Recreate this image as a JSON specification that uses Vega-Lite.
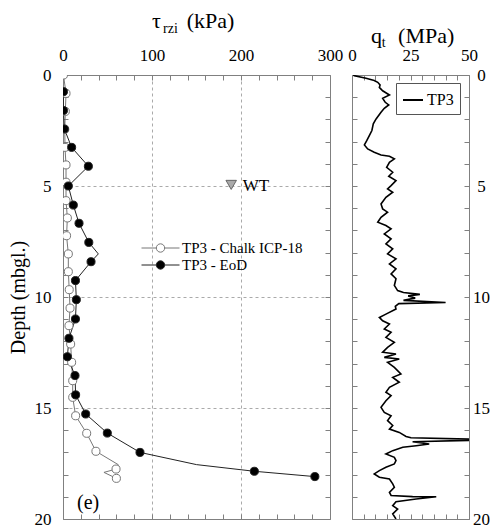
{
  "$schema": "https://vega.github.io/schema/vega-lite/v6.json",
  "background": "white",
  "padding": {"left": 8, "top": 10, "right": 0, "bottom": 0},
  "config": {
    "font": "Liberation Serif",
    "view": {"stroke": null},
    "axis": {
      "labelFont": "Liberation Serif", "labelFontSize": 17, "labelColor": "black",
      "domainColor": "#808080", "tickColor": "#808080", "domainWidth": 1, "tickWidth": 1,
      "titleFont": "Liberation Serif", "titleFontWeight": "normal", "titleColor": "black", "titleFontSize": 17,
      "gridColor": "#aaaaaa", "gridDash": [3, 3], "gridWidth": 1,
      "labelOverlap": false, "labelFlush": false
    },
    "legend": {"labelFont": "Liberation Serif", "labelColor": "black"},
    "concat": {"spacing": 4}
  },
  "datasets": {
    "tauPts": [
      {"series": "TP3 - Chalk ICP-18", "depth": 0.0, "kPa": 0.5},
      {"series": "TP3 - Chalk ICP-18", "depth": 0.83, "kPa": 3.4},
      {"series": "TP3 - Chalk ICP-18", "depth": 1.64, "kPa": 2.6},
      {"series": "TP3 - Chalk ICP-18", "depth": 2.45, "kPa": 2.0},
      {"series": "TP3 - Chalk ICP-18", "depth": 3.26, "kPa": 2.2},
      {"series": "TP3 - Chalk ICP-18", "depth": 4.05, "kPa": 3.4},
      {"series": "TP3 - Chalk ICP-18", "depth": 4.83, "kPa": 3.4},
      {"series": "TP3 - Chalk ICP-18", "depth": 5.66, "kPa": 3.4},
      {"series": "TP3 - Chalk ICP-18", "depth": 6.44, "kPa": 4.9},
      {"series": "TP3 - Chalk ICP-18", "depth": 7.24, "kPa": 4.0},
      {"series": "TP3 - Chalk ICP-18", "depth": 8.06, "kPa": 6.0},
      {"series": "TP3 - Chalk ICP-18", "depth": 8.86, "kPa": 6.0},
      {"series": "TP3 - Chalk ICP-18", "depth": 9.67, "kPa": 7.0},
      {"series": "TP3 - Chalk ICP-18", "depth": 10.5, "kPa": 7.9},
      {"series": "TP3 - Chalk ICP-18", "depth": 11.29, "kPa": 6.7},
      {"series": "TP3 - Chalk ICP-18", "depth": 12.12, "kPa": 8.6},
      {"series": "TP3 - Chalk ICP-18", "depth": 12.94, "kPa": 9.7},
      {"series": "TP3 - Chalk ICP-18", "depth": 13.77, "kPa": 10.9},
      {"series": "TP3 - Chalk ICP-18", "depth": 14.52, "kPa": 10.9},
      {"series": "TP3 - Chalk ICP-18", "depth": 15.35, "kPa": 14.2},
      {"series": "TP3 - Chalk ICP-18", "depth": 16.14, "kPa": 26.6},
      {"series": "TP3 - Chalk ICP-18", "depth": 16.95, "kPa": 37.0},
      {"series": "TP3 - Chalk ICP-18", "depth": 17.75, "kPa": 59.6},
      {"series": "TP3 - Chalk ICP-18", "depth": 18.17, "kPa": 60.0},
      {"series": "TP3 - EoD", "depth": 0.75, "kPa": 0.5},
      {"series": "TP3 - EoD", "depth": 1.6, "kPa": 0.5},
      {"series": "TP3 - EoD", "depth": 2.43, "kPa": 1.5},
      {"series": "TP3 - EoD", "depth": 3.26, "kPa": 9.7},
      {"series": "TP3 - EoD", "depth": 4.11, "kPa": 28.5},
      {"series": "TP3 - EoD", "depth": 5.0, "kPa": 6.0},
      {"series": "TP3 - EoD", "depth": 5.86, "kPa": 11.6},
      {"series": "TP3 - EoD", "depth": 6.68, "kPa": 18.0},
      {"series": "TP3 - EoD", "depth": 7.54, "kPa": 29.0},
      {"series": "TP3 - EoD", "depth": 8.41, "kPa": 31.5},
      {"series": "TP3 - EoD", "depth": 9.26, "kPa": 14.0},
      {"series": "TP3 - EoD", "depth": 10.12, "kPa": 15.0},
      {"series": "TP3 - EoD", "depth": 10.99, "kPa": 14.0},
      {"series": "TP3 - EoD", "depth": 11.86, "kPa": 6.7},
      {"series": "TP3 - EoD", "depth": 12.69, "kPa": 4.9},
      {"series": "TP3 - EoD", "depth": 13.54, "kPa": 13.5},
      {"series": "TP3 - EoD", "depth": 14.41, "kPa": 14.2},
      {"series": "TP3 - EoD", "depth": 15.27, "kPa": 25.5},
      {"series": "TP3 - EoD", "depth": 16.13, "kPa": 49.8},
      {"series": "TP3 - EoD", "depth": 17.0, "kPa": 86.5},
      {"series": "TP3 - EoD", "depth": 17.85, "kPa": 215.0},
      {"series": "TP3 - EoD", "depth": 18.09, "kPa": 283.0}
    ],
    "tauLine": [
      {"series": "TP3 - Chalk ICP-18", "depth": 0.0, "kPa": 0.5},
      {"series": "TP3 - Chalk ICP-18", "depth": 0.83, "kPa": 3.4},
      {"series": "TP3 - Chalk ICP-18", "depth": 1.64, "kPa": 2.6},
      {"series": "TP3 - Chalk ICP-18", "depth": 2.45, "kPa": 2.0},
      {"series": "TP3 - Chalk ICP-18", "depth": 3.26, "kPa": 2.2},
      {"series": "TP3 - Chalk ICP-18", "depth": 4.05, "kPa": 3.4},
      {"series": "TP3 - Chalk ICP-18", "depth": 4.83, "kPa": 3.4},
      {"series": "TP3 - Chalk ICP-18", "depth": 5.66, "kPa": 3.4},
      {"series": "TP3 - Chalk ICP-18", "depth": 6.44, "kPa": 4.9},
      {"series": "TP3 - Chalk ICP-18", "depth": 7.24, "kPa": 4.0},
      {"series": "TP3 - Chalk ICP-18", "depth": 8.06, "kPa": 6.0},
      {"series": "TP3 - Chalk ICP-18", "depth": 8.86, "kPa": 6.0},
      {"series": "TP3 - Chalk ICP-18", "depth": 9.67, "kPa": 7.0},
      {"series": "TP3 - Chalk ICP-18", "depth": 10.5, "kPa": 7.9},
      {"series": "TP3 - Chalk ICP-18", "depth": 11.29, "kPa": 6.7},
      {"series": "TP3 - Chalk ICP-18", "depth": 12.12, "kPa": 8.6},
      {"series": "TP3 - Chalk ICP-18", "depth": 12.94, "kPa": 9.7},
      {"series": "TP3 - Chalk ICP-18", "depth": 13.77, "kPa": 10.9},
      {"series": "TP3 - Chalk ICP-18", "depth": 14.52, "kPa": 10.9},
      {"series": "TP3 - Chalk ICP-18", "depth": 15.35, "kPa": 14.2},
      {"series": "TP3 - Chalk ICP-18", "depth": 16.14, "kPa": 26.6},
      {"series": "TP3 - Chalk ICP-18", "depth": 16.95, "kPa": 37.0},
      {"series": "TP3 - Chalk ICP-18", "depth": 17.55, "kPa": 62.0},
      {"series": "TP3 - Chalk ICP-18", "depth": 17.75, "kPa": 59.6},
      {"series": "TP3 - Chalk ICP-18", "depth": 17.9, "kPa": 46.0},
      {"series": "TP3 - Chalk ICP-18", "depth": 18.17, "kPa": 60.0},
      {"series": "TP3 - EoD", "depth": 0.75, "kPa": 0.5},
      {"series": "TP3 - EoD", "depth": 1.6, "kPa": 0.5},
      {"series": "TP3 - EoD", "depth": 2.43, "kPa": 1.5},
      {"series": "TP3 - EoD", "depth": 3.26, "kPa": 9.7},
      {"series": "TP3 - EoD", "depth": 4.11, "kPa": 28.5},
      {"series": "TP3 - EoD", "depth": 5.0, "kPa": 6.0},
      {"series": "TP3 - EoD", "depth": 5.86, "kPa": 11.6},
      {"series": "TP3 - EoD", "depth": 6.68, "kPa": 18.0},
      {"series": "TP3 - EoD", "depth": 7.54, "kPa": 29.0},
      {"series": "TP3 - EoD", "depth": 8.06, "kPa": 39.7},
      {"series": "TP3 - EoD", "depth": 8.41, "kPa": 31.5},
      {"series": "TP3 - EoD", "depth": 9.26, "kPa": 14.0},
      {"series": "TP3 - EoD", "depth": 10.12, "kPa": 15.0},
      {"series": "TP3 - EoD", "depth": 10.99, "kPa": 14.0},
      {"series": "TP3 - EoD", "depth": 11.86, "kPa": 6.7},
      {"series": "TP3 - EoD", "depth": 12.69, "kPa": 4.9},
      {"series": "TP3 - EoD", "depth": 13.54, "kPa": 13.5},
      {"series": "TP3 - EoD", "depth": 14.41, "kPa": 14.2},
      {"series": "TP3 - EoD", "depth": 15.27, "kPa": 25.5},
      {"series": "TP3 - EoD", "depth": 16.13, "kPa": 49.8},
      {"series": "TP3 - EoD", "depth": 17.0, "kPa": 86.5},
      {"series": "TP3 - EoD", "depth": 17.55, "kPa": 150.0},
      {"series": "TP3 - EoD", "depth": 17.85, "kPa": 215.0},
      {"series": "TP3 - EoD", "depth": 18.09, "kPa": 283.0}
    ],
    "qt": [
      {"depth": 0.0, "q": 0.5}, {"depth": 0.03, "q": 1}, {"depth": 0.15, "q": 6}, {"depth": 0.25, "q": 9.5},
      {"depth": 0.33, "q": 11}, {"depth": 0.45, "q": 12}, {"depth": 0.56, "q": 11.7}, {"depth": 0.71, "q": 13.1},
      {"depth": 0.9, "q": 16}, {"depth": 1.05, "q": 13.1}, {"depth": 1.23, "q": 14.2}, {"depth": 1.35, "q": 15.7},
      {"depth": 1.5, "q": 13.8}, {"depth": 1.68, "q": 12.4}, {"depth": 1.98, "q": 10.3}, {"depth": 2.2, "q": 9.1},
      {"depth": 2.5, "q": 8.5}, {"depth": 2.73, "q": 7.4}, {"depth": 2.96, "q": 6.3}, {"depth": 3.15, "q": 5.3},
      {"depth": 3.33, "q": 6.7}, {"depth": 3.48, "q": 9.5}, {"depth": 3.6, "q": 12.4}, {"depth": 3.66, "q": 16},
      {"depth": 3.78, "q": 18.1}, {"depth": 3.93, "q": 16}, {"depth": 4.16, "q": 14.8}, {"depth": 4.38, "q": 17.4},
      {"depth": 4.56, "q": 15.7}, {"depth": 4.76, "q": 18.8}, {"depth": 4.98, "q": 16.7}, {"depth": 5.13, "q": 15.2},
      {"depth": 5.28, "q": 17.4}, {"depth": 5.51, "q": 14.5}, {"depth": 5.81, "q": 12.4}, {"depth": 6.03, "q": 13.1},
      {"depth": 6.18, "q": 15.2}, {"depth": 6.41, "q": 12.4}, {"depth": 6.63, "q": 11}, {"depth": 6.78, "q": 14.5},
      {"depth": 6.93, "q": 16.7}, {"depth": 7.16, "q": 13.8}, {"depth": 7.38, "q": 16.7}, {"depth": 7.61, "q": 14.5},
      {"depth": 7.83, "q": 17.4}, {"depth": 8.06, "q": 15.2}, {"depth": 8.28, "q": 18.8}, {"depth": 8.51, "q": 16},
      {"depth": 8.73, "q": 18.8}, {"depth": 8.96, "q": 16.7}, {"depth": 9.18, "q": 18.8}, {"depth": 9.48, "q": 18.1},
      {"depth": 9.71, "q": 19.5}, {"depth": 9.8, "q": 22}, {"depth": 9.88, "q": 29}, {"depth": 9.95, "q": 24},
      {"depth": 10.05, "q": 27}, {"depth": 10.15, "q": 22}, {"depth": 10.25, "q": 40}, {"depth": 10.3, "q": 20},
      {"depth": 10.42, "q": 18.5}, {"depth": 10.54, "q": 18.8}, {"depth": 10.77, "q": 14.5}, {"depth": 10.92, "q": 11.7},
      {"depth": 11.07, "q": 13.1}, {"depth": 11.22, "q": 16}, {"depth": 11.44, "q": 13.8}, {"depth": 11.59, "q": 16.7},
      {"depth": 11.82, "q": 14.5}, {"depth": 12.04, "q": 18.1}, {"depth": 12.27, "q": 15.2}, {"depth": 12.49, "q": 13.1},
      {"depth": 12.57, "q": 18.8}, {"depth": 12.72, "q": 13.8}, {"depth": 12.79, "q": 20.2}, {"depth": 12.94, "q": 15.2},
      {"depth": 13.17, "q": 18.1}, {"depth": 13.47, "q": 20.9}, {"depth": 13.62, "q": 17.4}, {"depth": 13.84, "q": 20.2},
      {"depth": 14.07, "q": 16}, {"depth": 14.29, "q": 14.5}, {"depth": 14.44, "q": 16.7}, {"depth": 14.67, "q": 14.5},
      {"depth": 14.97, "q": 12.4}, {"depth": 15.2, "q": 13.8}, {"depth": 15.35, "q": 16.7}, {"depth": 15.57, "q": 15.2},
      {"depth": 15.79, "q": 17.4}, {"depth": 15.95, "q": 16}, {"depth": 16.1, "q": 20.2}, {"depth": 16.28, "q": 23.1},
      {"depth": 16.34, "q": 25.2}, {"depth": 16.4, "q": 50}, {"depth": 16.46, "q": 50}, {"depth": 16.52, "q": 25.9},
      {"depth": 16.62, "q": 33}, {"depth": 16.7, "q": 27.4}, {"depth": 16.77, "q": 21.7}, {"depth": 16.92, "q": 17.4},
      {"depth": 17.07, "q": 14.5}, {"depth": 17.22, "q": 18.1}, {"depth": 17.37, "q": 18.8}, {"depth": 17.52, "q": 18.1},
      {"depth": 17.67, "q": 14.5}, {"depth": 17.82, "q": 11.7}, {"depth": 17.97, "q": 9.5}, {"depth": 18.12, "q": 11.7},
      {"depth": 18.2, "q": 16}, {"depth": 18.42, "q": 17.4}, {"depth": 18.57, "q": 18.1}, {"depth": 18.8, "q": 16},
      {"depth": 18.94, "q": 16.7}, {"depth": 18.99, "q": 25.9}, {"depth": 19.0, "q": 36}, {"depth": 19.1, "q": 27.4},
      {"depth": 19.22, "q": 18.8}, {"depth": 19.4, "q": 17.4}, {"depth": 19.55, "q": 19.5}, {"depth": 19.77, "q": 17.4},
      {"depth": 20.0, "q": 18.8}
    ]
  },
  "resolve": {"scale": {"stroke": "independent", "fill": "independent"}, "legend": {"stroke": "independent", "fill": "independent"}},
  "hconcat": [
    {
      "width": 267,
      "height": 444,
      "resolve": {"axis": {"x": "independent", "y": "independent"}},
      "layer": [
        {
          "data": {"name": "tauLine"},
          "mark": {"type": "line", "strokeWidth": 1, "clip": true},
          "encoding": {
            "x": {"field": "kPa", "type": "quantitative",
              "scale": {"domain": [0, 300], "nice": false, "zero": false},
              "axis": {"orient": "top", "title": null,
                "values": [0, 20, 40, 60, 80, 100, 120, 140, 160, 180, 200, 220, 240, 260, 280, 300],
                "labelExpr": "datum.value % 100 === 0 ? datum.label : ''",
                "tickSize": -5, "labelPadding": 16,
                "grid": true,
                "gridOpacity": {"condition": {"test": "datum.value === 100 || datum.value === 200", "value": 1}, "value": 0}}},
            "y": {"field": "depth", "type": "quantitative",
              "scale": {"domain": [0, 20], "nice": false, "reverse": true, "zero": false},
              "axis": {"orient": "left", "title": "Depth (mbgl.)", "titlePadding": 6, "titleFontSize": 20,
                "values": [0, 1, 2, 3, 4, 5, 6, 7, 8, 9, 10, 11, 12, 13, 14, 15, 16, 17, 18, 19, 20],
                "labelExpr": "datum.value % 5 === 0 ? datum.label : ''",
                "tickSize": -5, "labelPadding": 17,
                "grid": true,
                "gridOpacity": {"condition": {"test": "datum.value === 5 || datum.value === 10 || datum.value === 15", "value": 1}, "value": 0}}},
            "stroke": {"field": "series", "type": "nominal",
              "scale": {"domain": ["TP3 - Chalk ICP-18", "TP3 - EoD"], "range": ["#777777", "#222222"]},
              "legend": {"orient": "none", "legendX": 78, "legendY": 167, "title": null, "padding": 0,
                "symbolType": "M-1,0H-0.22M0.22,0H1M-0.22,0A0.22,0.22,0,1,0,0.22,0A0.22,0.22,0,1,0,-0.22,0",
                "symbolSize": 1444, "symbolStrokeWidth": 1, "labelFontSize": 15, "labelOffset": 2, "rowPadding": 2, "clipHeight": 12}},
            "order": {"field": "depth", "type": "quantitative"}
          }
        },
        {
          "data": {"name": "tauPts"},
          "mark": {"type": "point", "shape": "circle", "filled": false, "size": 65, "strokeWidth": 1, "opacity": 1, "clip": true},
          "encoding": {
            "x": {"field": "kPa", "type": "quantitative",
              "axis": {"orient": "bottom", "title": null, "labels": false,
                "values": [0, 20, 40, 60, 80, 100, 120, 140, 160, 180, 200, 220, 240, 260, 280, 300],
                "tickSize": -5, "grid": false, "minExtent": 0}},
            "y": {"field": "depth", "type": "quantitative",
              "axis": {"orient": "right", "title": null, "labels": false,
                "values": [0, 1, 2, 3, 4, 5, 6, 7, 8, 9, 10, 11, 12, 13, 14, 15, 16, 17, 18, 19, 20],
                "tickSize": -5, "grid": false, "minExtent": 0}},
            "stroke": {"field": "series", "type": "nominal"},
            "fill": {"field": "series", "type": "nominal",
              "scale": {"domain": ["TP3 - Chalk ICP-18", "TP3 - EoD"], "range": ["white", "black"]},
              "legend": {"orient": "none", "legendX": 78, "legendY": 167, "title": null, "padding": 0,
                "symbolType": "M-1,0H-0.22M0.22,0H1M-0.22,0A0.22,0.22,0,1,0,0.22,0A0.22,0.22,0,1,0,-0.22,0",
                "symbolSize": 1444, "symbolStrokeWidth": 1, "labelFontSize": 15, "labelOffset": 2, "rowPadding": 2, "clipHeight": 12}}
          }
        },
        {
          "data": {"values": [{"label": "τ", "kPa": 100, "depth": -2.1}, {"label": "(kPa)", "kPa": 139, "depth": -2.1}]},
          "mark": {"type": "text", "fontSize": 22, "align": "left", "baseline": "alphabetic", "clip": false, "color": "black"},
          "encoding": {"x": {"field": "kPa", "type": "quantitative", "axis": null}, "y": {"field": "depth", "type": "quantitative", "axis": null}, "text": {"field": "label"}}
        },
        {
          "data": {"values": [{"label": "rzi", "kPa": 112.4, "depth": -1.88}]},
          "mark": {"type": "text", "fontSize": 14, "align": "left", "baseline": "alphabetic", "clip": false, "color": "black"},
          "encoding": {"x": {"field": "kPa", "type": "quantitative", "axis": null}, "y": {"field": "depth", "type": "quantitative", "axis": null}, "text": {"field": "label"}}
        },
        {
          "data": {"values": [{"kPa": 189, "depth": 4.95}]},
          "mark": {"type": "point", "shape": "triangle-down", "filled": true, "size": 110, "fill": "#aaaaaa", "stroke": "#666666", "strokeWidth": 1, "opacity": 1},
          "encoding": {"x": {"field": "kPa", "type": "quantitative", "axis": null}, "y": {"field": "depth", "type": "quantitative", "axis": null}}
        },
        {
          "data": {"values": [{"label": "WT", "kPa": 202, "depth": 5.0}]},
          "mark": {"type": "text", "fontSize": 17, "align": "left", "baseline": "middle", "color": "black"},
          "encoding": {"x": {"field": "kPa", "type": "quantitative", "axis": null}, "y": {"field": "depth", "type": "quantitative", "axis": null}, "text": {"field": "label"}}
        },
        {
          "data": {"values": [{"label": "(e)", "kPa": 15.7, "depth": 19.55}]},
          "mark": {"type": "text", "fontSize": 20, "align": "left", "baseline": "alphabetic", "color": "black"},
          "encoding": {"x": {"field": "kPa", "type": "quantitative", "axis": null}, "y": {"field": "depth", "type": "quantitative", "axis": null}, "text": {"field": "label"}}
        }
      ]
    },
    {
      "width": 117,
      "height": 444,
      "resolve": {"axis": {"x": "independent", "y": "independent"}},
      "layer": [
        {
          "data": {"name": "qt"},
          "mark": {"type": "line", "strokeWidth": 1.6, "clip": true},
          "encoding": {
            "x": {"field": "q", "type": "quantitative",
              "scale": {"domain": [0, 50], "nice": false, "zero": false},
              "axis": {"orient": "top", "title": null,
                "values": [0, 5, 10, 15, 20, 25, 30, 35, 40, 45, 50],
                "labelExpr": "datum.value % 25 === 0 ? datum.label : ''",
                "tickSize": -5, "labelPadding": 16, "grid": false}},
            "y": {"field": "depth", "type": "quantitative",
              "scale": {"domain": [0, 20], "nice": false, "reverse": true, "zero": false},
              "axis": {"orient": "right", "title": null,
                "values": [0, 1, 2, 3, 4, 5, 6, 7, 8, 9, 10, 11, 12, 13, 14, 15, 16, 17, 18, 19, 20],
                "labelExpr": "datum.value % 5 === 0 ? datum.label : ''",
                "labelAlign": "center", "tickSize": -5, "labelPadding": 17, "grid": false}},
            "stroke": {"datum": "TP3", "type": "nominal",
              "scale": {"range": ["black"]},
              "legend": {"orient": "none", "legendX": 44, "legendY": 8, "title": null,
                "symbolType": "stroke", "symbolSize": 400, "symbolStrokeWidth": 2,
                "labelFontSize": 16, "labelOffset": 3, "padding": 6,
                "strokeColor": "#555555", "fillColor": "white"}},
            "order": {"field": "depth", "type": "quantitative"}
          }
        },
        {
          "data": {"values": [{"label": "q", "q": 8.1, "depth": -1.44}, {"label": "(MPa)", "q": 19.7, "depth": -1.44}]},
          "mark": {"type": "text", "fontSize": 22, "align": "left", "baseline": "alphabetic", "clip": false, "color": "black"},
          "encoding": {
            "x": {"field": "q", "type": "quantitative",
              "axis": {"orient": "bottom", "title": null, "labels": false,
                "values": [0, 5, 10, 15, 20, 25, 30, 35, 40, 45, 50], "tickSize": -5, "grid": false, "minExtent": 0}},
            "y": {"field": "depth", "type": "quantitative",
              "axis": {"orient": "left", "title": null, "labels": false,
                "values": [0, 1, 2, 3, 4, 5, 6, 7, 8, 9, 10, 11, 12, 13, 14, 15, 16, 17, 18, 19, 20],
                "tickSize": -5, "grid": false, "minExtent": 0}},
            "text": {"field": "label"}
          }
        },
        {
          "data": {"values": [{"label": "t", "q": 12.7, "depth": -1.26}]},
          "mark": {"type": "text", "fontSize": 14, "align": "left", "baseline": "alphabetic", "clip": false, "color": "black"},
          "encoding": {"x": {"field": "q", "type": "quantitative", "axis": null}, "y": {"field": "depth", "type": "quantitative", "axis": null}, "text": {"field": "label"}}
        }
      ]
    }
  ]
}
